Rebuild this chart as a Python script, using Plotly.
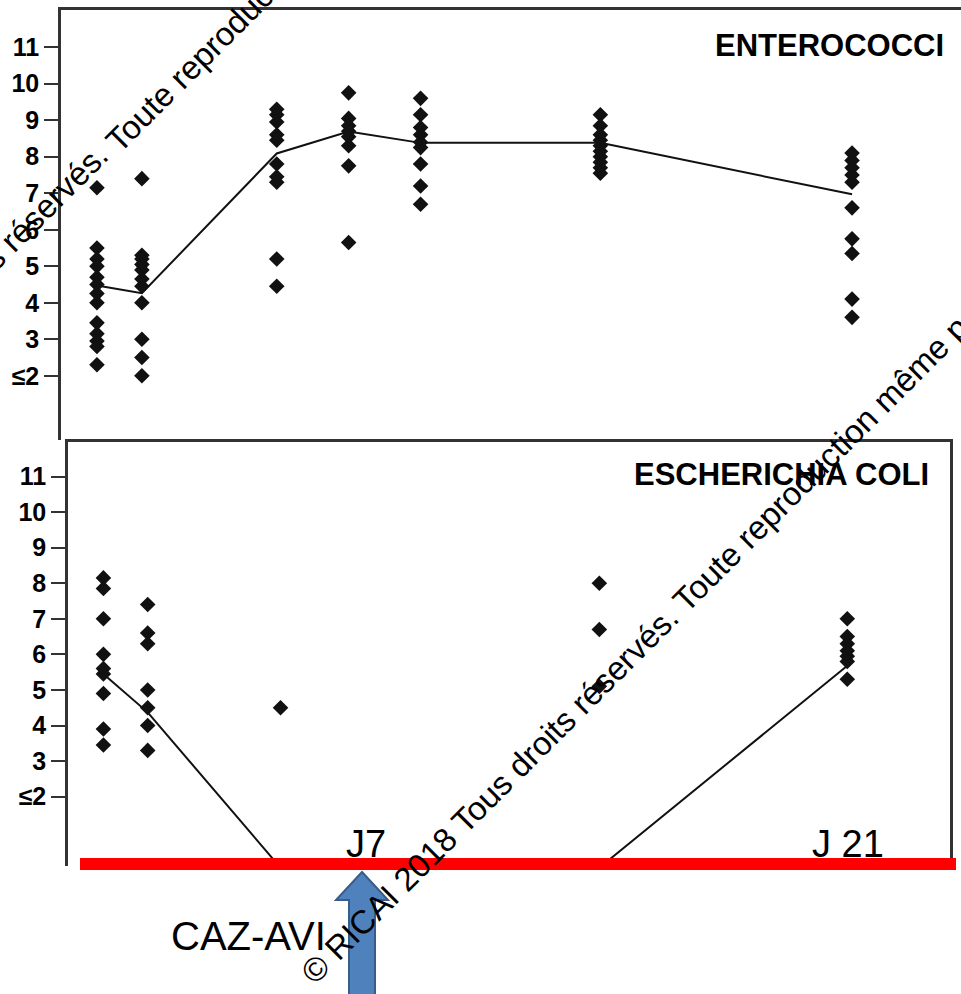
import plotly.graph_objects as go

W, H = 961, 994

# ---------------- data ----------------
days = [0, 1.25, 5, 7, 9, 14, 21]

entero_values = [
    [7.15, 5.5, 5.2, 5.0, 4.7, 4.5, 4.25, 4.0, 3.45, 3.15, 2.95, 2.8, 2.3],
    [7.4, 5.3, 5.2, 5.05, 4.9, 4.65, 4.45, 4.0, 3.0, 2.5, 2.0],
    [9.3, 9.15, 8.95, 8.6, 8.45, 7.8, 7.45, 7.3, 5.2, 4.45],
    [9.75, 9.05, 8.85, 8.7, 8.55, 8.3, 7.75, 5.65],
    [9.6, 9.15, 8.8, 8.6, 8.4, 8.25, 7.8, 7.2, 6.7],
    [9.15, 8.85, 8.6, 8.45, 8.3, 8.15, 8.0, 7.85, 7.7, 7.55],
    [8.1, 7.9, 7.7, 7.5, 7.3, 6.6, 5.75, 5.35, 4.1, 3.6],
]
entero_mean = [4.47, 4.26, 8.09, 8.69, 8.38, 8.38, 6.97]

ecoli_values = [
    [8.15, 7.85, 7.0, 6.0, 5.6, 5.45, 4.9, 3.9, 3.45],
    [7.4, 6.6, 6.3, 5.0, 4.5, 4.0, 3.3],
    [4.5],
    [],
    [],
    [8.0, 6.7, 5.1],
    [7.0, 6.5, 6.3, 6.1, 5.95, 5.8, 5.3],
]
ecoli_mean = [5.45, 4.37, 0, 0, 0, 0, 5.68]

tick_vals = [2, 3, 4, 5, 6, 7, 8, 9, 10, 11]
tick_text = ["≤2", "3", "4", "5", "6", "7", "8", "9", "10", "11"]

panel_titles = ["ENTEROCOCCI", "ESCHERICHIA COLI"]
day_labels = ["J7", "J 21"]
drug_label = "CAZ-AVI"
watermark = "© RICAI 2018 Tous droits réservés. Toute reproduction même partielle interdite"


def pxx(x):
    return x / W


def pxy(y):
    return 1 - y / H


def flatten(values):
    xs, ys = [], []
    for d, vals in zip(days, values):
        for v in vals:
            xs.append(d)
            ys.append(v)
    return xs, ys


fig = go.Figure()

marker = dict(symbol="diamond", size=12, color="#111111", line=dict(width=0))
line = dict(color="#111111", width=2)

ex, ey = flatten(entero_values)
fig.add_trace(go.Scatter(x=days, y=entero_mean, mode="lines", line=line,
                         xaxis="x", yaxis="y", showlegend=False, hoverinfo="skip"))
fig.add_trace(go.Scatter(x=ex, y=ey, mode="markers", marker=marker,
                         xaxis="x", yaxis="y", showlegend=False))

cx, cy = flatten(ecoli_values)
fig.add_trace(go.Scatter(x=days, y=ecoli_mean, mode="lines", line=line,
                         xaxis="x2", yaxis="y2", showlegend=False, hoverinfo="skip"))
fig.add_trace(go.Scatter(x=cx, y=cy, mode="markers", marker=marker,
                         xaxis="x2", yaxis="y2", showlegend=False))

axis_color = "#333333"
tickfont = dict(family="Liberation Sans, Arial, sans-serif", size=25, color="black", weight="bold")

fig.update_layout(
    width=W, height=H,
    margin=dict(l=0, r=0, t=0, b=0),
    paper_bgcolor="white", plot_bgcolor="white",
    showlegend=False,
    xaxis=dict(domain=[pxx(61), 1.0], range=[-1, 24.03], anchor="y",
               showgrid=False, zeroline=False, showticklabels=False, ticks="",
               showline=True, side="top", linecolor=axis_color, linewidth=2.5, mirror=False),
    yaxis=dict(domain=[pxy(440), pxy(10)], range=[0.24, 12.02], anchor="x",
               showgrid=False, zeroline=False, showline=True, linecolor=axis_color, linewidth=2.5,
               tickmode="array", tickvals=tick_vals, ticktext=tick_text,
               ticks="outside", ticklen=14, tickwidth=2, tickcolor=axis_color, tickfont=tickfont),
    xaxis2=dict(domain=[pxx(68), pxx(950)], range=[-1, 23.9], anchor="y2",
                showgrid=False, zeroline=False, showticklabels=False, ticks="",
                showline=True, side="top", mirror=False, linecolor=axis_color, linewidth=2.5),
    yaxis2=dict(domain=[pxy(866), pxy(442)], range=[0.05, 11.97], anchor="x2",
                showgrid=False, zeroline=False, showline=True, mirror=True,
                linecolor=axis_color, linewidth=2.5,
                tickmode="array", tickvals=tick_vals, ticktext=tick_text,
                ticks="outside", ticklen=14, tickwidth=2, tickcolor=axis_color, tickfont=tickfont),
)

# red timeline bar
fig.add_shape(type="rect", xref="paper", yref="paper",
              x0=pxx(80), x1=pxx(956), y0=pxy(870), y1=pxy(858),
              fillcolor="#ff0000", line=dict(width=0), layer="above")

# blue block arrow
pts = [(362, 872), (388, 900), (375, 900), (375, 1000), (349, 1000), (349, 900), (336, 900)]
path = "M " + " L ".join(f"{pxx(x):.5f},{pxy(y):.5f}" for x, y in pts) + " Z"
fig.add_shape(type="path", xref="paper", yref="paper", path=path,
              fillcolor="#4f81bd", line=dict(color="#385d8a", width=2), layer="above")

title_font = dict(family="Liberation Sans, Arial, sans-serif", size=31, color="black", weight="bold")
fig.add_annotation(text=panel_titles[0], xref="paper", yref="paper", x=pxx(946), y=pxy(46),
                   xanchor="right", yanchor="middle", showarrow=False, font=title_font)
fig.add_annotation(text=panel_titles[1], xref="paper", yref="paper", x=pxx(931), y=pxy(475),
                   xanchor="right", yanchor="middle", showarrow=False, font=title_font)

label_font = dict(family="Liberation Sans, Arial, sans-serif", size=38, color="black")
fig.add_annotation(text=day_labels[0], xref="paper", yref="paper", x=pxx(366), y=pxy(867),
                   xanchor="center", yanchor="bottom", showarrow=False, font=label_font)
fig.add_annotation(text=day_labels[1], xref="paper", yref="paper", x=pxx(848), y=pxy(867),
                   xanchor="center", yanchor="bottom", showarrow=False, font=label_font)
fig.add_annotation(text=drug_label, xref="paper", yref="paper", x=pxx(248), y=pxy(936),
                   xanchor="center", yanchor="middle", showarrow=False,
                   font=dict(family="Liberation Sans, Arial, sans-serif", size=40, color="black"))

wm_font = dict(family="Liberation Sans, Arial, sans-serif", size=33, color="black")
# lower watermark line
fig.add_annotation(text=watermark, xref="paper", yref="paper", x=pxx(291), y=pxy(993),
                   xanchor="left", yanchor="bottom", textangle=-45, showarrow=False, font=wm_font)
# upper-left watermark line (split at the sentence break)
fig.add_annotation(text="© RICAI 2018 Tous droits réservés.", xref="paper", yref="paper",
                   x=pxx(118), y=pxy(134), xanchor="right", yanchor="top", textangle=-45,
                   showarrow=False, font=wm_font)
fig.add_annotation(text="Toute reproduction même partielle interdite", xref="paper", yref="paper",
                   x=pxx(96), y=pxy(162), xanchor="left", yanchor="bottom", textangle=-45,
                   showarrow=False, font=wm_font)

fig.write_html("out.html", config={"displayModeBar": False},
               post_script="document.body.style.margin='0';document.body.style.padding='0';"
                           "document.documentElement.style.overflow='hidden';")
